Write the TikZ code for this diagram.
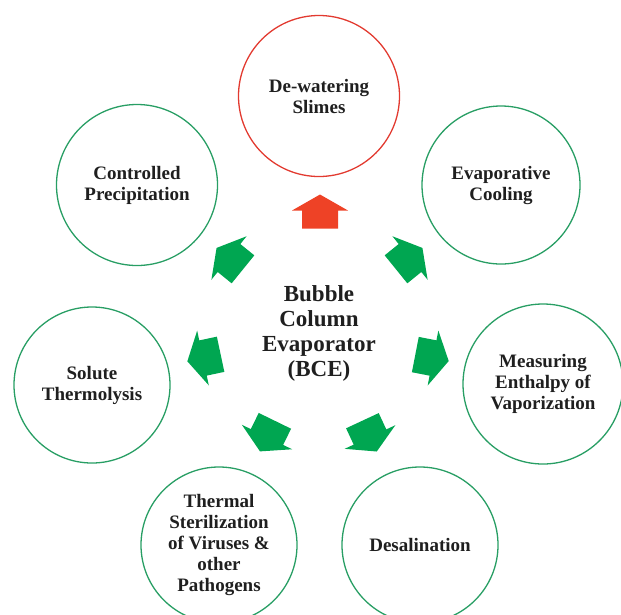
\documentclass[tikz,border=0pt]{standalone}
\usepackage{fontspec}
\setmainfont{Liberation Serif}
\definecolor{cgreen}{RGB}{40,158,100}
\definecolor{agreen}{RGB}{0,166,81}
\definecolor{cred}{RGB}{226,58,48}
\definecolor{ared}{RGB}{238,66,38}
\begin{document}
\begin{tikzpicture}[x=1pt,y=-1pt,
  topic/.style={circle, draw=cgreen, line width=1.3pt, minimum size=158pt, inner sep=0pt,
    align=center, font=\fontsize{19}{21}\selectfont\bfseries, text=black!88},
  redtopic/.style={topic, draw=cred, minimum size=161pt},
  hub/.style={align=center, font=\fontsize{23}{25}\selectfont\bfseries, text=black!88},
  blockarrow/.pic={\fill (16,0) -- (0,28) -- (0,18) -- (-18,18) -- (-18,-18) -- (0,-18) -- (0,-28) -- cycle;}]
\useasboundingbox (0,0) rectangle (621,614);
% topic circles
\node[redtopic] (dw) at (319,96) {De-watering\\Slimes};
\node[topic] (ec) at (501,185) {Evaporative\\Cooling};
\node[topic, minimum size=161pt] (cp) at (137,185) {Controlled\\Precipitation};
\node[topic, minimum size=156pt] (st) at (92,385) {Solute\\Thermolysis};
\node[topic, minimum size=160pt] (me) at (543,384) {Measuring\\Enthalpy of\\Vaporization};
\node[topic, minimum size=156pt] (ts) at (219,545) {Thermal\\Sterilization\\of Viruses \&\\other\\Pathogens};
\node[topic, minimum size=156pt] (ds) at (420,545) {Desalination};
% hub
\node[hub] (bce) at (319,333) {Bubble\\Column\\Evaporator\\(BCE)};
% block arrows
\pic[fill=ared] at (320,210.5) [rotate=90] {blockarrow};
\pic[fill=agreen] at (229,258) [rotate=141] {blockarrow};
\pic[fill=agreen] at (410,258) [rotate=39] {blockarrow};
\pic[fill=agreen] at (203,358) [rotate=192] {blockarrow};
\pic[fill=agreen] at (433,358) [rotate=-11] {blockarrow};
\pic[fill=agreen] at (267,437) [rotate=-116] {blockarrow};
\pic[fill=agreen] at (370,437) [rotate=-65] {blockarrow};
\end{tikzpicture}
\end{document}
